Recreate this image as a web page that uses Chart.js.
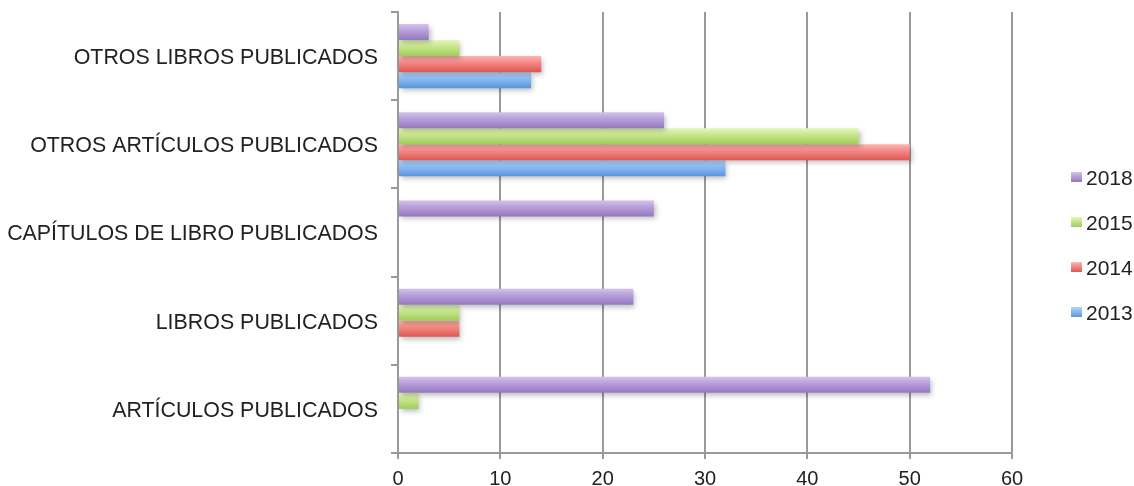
<!DOCTYPE html>
<html>
<head>
<meta charset="utf-8">
<script src="https://cdn.jsdelivr.net/npm/chart.js@4"></script>
<style>
  html, body { margin: 0; padding: 0; background: #fff; }
  #wrap { width: 1134px; height: 486px; position: relative; }
</style>
</head>
<body>
<div id="wrap"><canvas id="c"></canvas></div>
<script>
// Categories, top to bottom
const categories = [
  'OTROS LIBROS PUBLICADOS',
  'OTROS ARTÍCULOS PUBLICADOS',
  'CAPÍTULOS DE LIBRO PUBLICADOS',
  'LIBROS PUBLICADOS',
  'ARTÍCULOS PUBLICADOS'
];
const years = ['2018', '2015', '2014', '2013'];
const values2018 = [3, 26, 25, 23, 52];
const values2015 = [6, 45, 0, 6, 2];
const values2014 = [14, 50, 0, 6, 0];
const values2013 = [13, 32, 0, 0, 0];
const xTicks = [0, 10, 20, 30, 40, 50, 60];

// light top / mid / dark bottom for each series
const palette = {
  '2018': ['#d4c2ec', '#b49cd9', '#9478bd'],
  '2015': ['#e4f6bd', '#c4e589', '#a2cc5c'],
  '2014': ['#fdb6b3', '#f38581', '#db5853'],
  '2013': ['#b6d7fc', '#87b9f1', '#5895dc']
};

const CAT_PCT = 0.727;
const FONT = '"Liberation Sans", Arial, Helvetica, sans-serif';

function barFill(seriesIndex) {
  const cols = palette[years[seriesIndex]];
  return function (ctx) {
    const chart = ctx.chart;
    const y = chart.scales && chart.scales.y;
    if (!chart.chartArea || !y || ctx.dataIndex === undefined) return cols[1];
    const size = y.height / categories.length;
    const group = size * CAT_PCT;
    const thick = group / years.length;
    const center = y.getPixelForValue(ctx.dataIndex);
    const top = center - group / 2 + seriesIndex * thick;
    const g = chart.ctx.createLinearGradient(0, top, 0, top + thick);
    g.addColorStop(0, cols[0]);
    g.addColorStop(0.45, cols[1]);
    g.addColorStop(1, cols[2]);
    return g;
  };
}

const seriesValues = [values2018, values2015, values2014, values2013];
const datasets = years.map((yr, i) => ({
  label: yr,
  data: seriesValues[i],
  backgroundColor: barFill(i),
  borderWidth: 0,
  categoryPercentage: CAT_PCT,
  barPercentage: 1
}));

// soft drop shadow under the bars
const barShadow = {
  id: 'barShadow',
  beforeDatasetsDraw(chart) {
    const c = chart.ctx;
    c.save();
    c.shadowColor = 'rgba(0,0,0,0.25)';
    c.shadowBlur = 5;
    c.shadowOffsetX = 2;
    c.shadowOffsetY = 3;
  },
  afterDatasetsDraw(chart) {
    chart.ctx.restore();
  }
};

// legend on the right: small square + year label
const sideLegend = {
  id: 'sideLegend',
  afterDraw(chart) {
    const c = chart.ctx;
    const area = chart.chartArea;
    const x = area.right + 59;
    const y0 = 178;
    const step = 45;
    c.save();
    c.font = '21px ' + FONT;
    c.textBaseline = 'middle';
    c.textAlign = 'left';
    years.forEach((yr, i) => {
      const cy = y0 + i * step;
      const cols = palette[yr];
      const g = c.createLinearGradient(0, cy - 6, 0, cy + 4);
      g.addColorStop(0, cols[0]);
      g.addColorStop(1, cols[2]);
      c.fillStyle = g;
      c.fillRect(x, cy - 6, 11, 10);
      c.fillStyle = '#222';
      c.fillText(yr, x + 15, cy + 1);
    });
    c.restore();
  }
};

const gridGrey = '#9a9a9a';

new Chart(document.getElementById('c'), {
  type: 'bar',
  data: { labels: categories, datasets },
  options: {
    indexAxis: 'y',
    responsive: true,
    maintainAspectRatio: false,
    animation: false,
    layout: { padding: { top: 12, right: 122, bottom: 0, left: 0 } },
    plugins: {
      legend: { display: false },
      tooltip: { enabled: false }
    },
    scales: {
      x: {
        min: xTicks[0],
        max: xTicks[xTicks.length - 1],
        afterBuildTicks(scale) { scale.ticks = xTicks.map(v => ({ value: v })); },
        afterFit(scale) { scale.height = 33; },
        grid: {
          color: gridGrey,
          lineWidth: 2,
          drawTicks: true,
          tickLength: 6,
          tickColor: gridGrey
        },
        border: { display: true, color: gridGrey, width: 2 },
        ticks: {
          color: '#222',
          padding: 8,
          font: { family: FONT, size: 20 }
        }
      },
      y: {
        afterFit(scale) {
          scale.width = 398;
          scale.paddingTop = 0;
          scale.paddingBottom = 0;
        },
        grid: {
          drawOnChartArea: false,
          drawTicks: true,
          tickLength: 7,
          color: gridGrey,
          lineWidth: 2
        },
        border: { display: true, color: gridGrey, width: 2 },
        ticks: {
          color: '#222',
          padding: 13,
          labelOffset: 2,
          font: { family: FONT, size: 21.4 }
        }
      }
    }
  },
  plugins: [barShadow, sideLegend]
});
</script>
</body>
</html>
